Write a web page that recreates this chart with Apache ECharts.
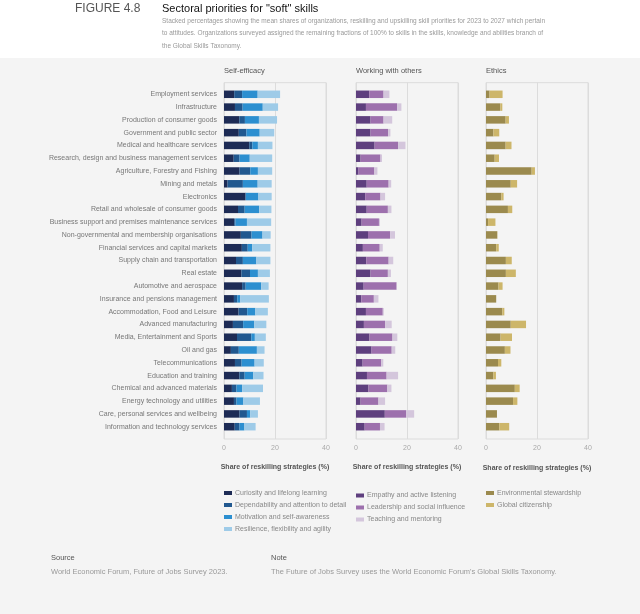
<!DOCTYPE html>
<html>
<head>
<meta charset="utf-8">
<title>Sectoral priorities for "soft" skills</title>
<script src="https://cdn.jsdelivr.net/npm/echarts@6/dist/echarts.min.js"></script>
<style>
	html, body { margin: 0; padding: 0; background: #f4f4f4; }
	#mychart { width: 640px; height: 614px; }
</style>
</head>
<body>
<div id="mychart"></div>
<script>
	const sectors = [
		'Employment services', 'Infrastructure', 'Production of consumer goods', 'Government and public sector',
		'Medical and healthcare services', 'Research, design and business management services',
		'Agriculture, Forestry and Fishing', 'Mining and metals', 'Electronics', 'Retail and wholesale of consumer goods',
		'Business support and premises maintenance services', 'Non-governmental and membership organisations',
		'Financial services and capital markets', 'Supply chain and transportation', 'Real estate',
		'Automotive and aerospace', 'Insurance and pensions management', 'Accommodation, Food and Leisure',
		'Advanced manufacturing', 'Media, Entertainment and Sports', 'Oil and gas', 'Telecommunications',
		'Education and training', 'Chemical and advanced materials', 'Energy technology and utilities',
		'Care, personal services and wellbeing', 'Information and technology services'
	]
	const xTicks = [0, 20, 40]

	// Self-efficacy
	const curiosity = [4.0, 4.3, 6.0, 5.8, 9.9, 3.8, 6.1, 1.4, 8.4, 5.5, 4.0, 6.6, 7.0, 4.7, 6.8, 7.1, 3.9, 5.7, 3.5, 5.1, 2.7, 4.3, 6.0, 3.1, 3.9, 6.1, 4.2]
	const dependability = [3.1, 3.0, 2.2, 3.0, 1.2, 2.3, 4.2, 6.0, 0.2, 2.6, 0.5, 4.2, 2.3, 2.7, 3.4, 1.4, 1.3, 3.4, 4.0, 5.6, 3.1, 2.6, 2.1, 1.8, 1.0, 2.9, 1.9]
	const motivation = [6.1, 7.9, 5.5, 5.2, 2.2, 4.0, 3.0, 5.8, 4.9, 5.7, 4.5, 4.3, 1.8, 5.3, 3.1, 6.1, 1.2, 3.2, 4.4, 1.4, 7.1, 5.1, 3.4, 2.2, 2.7, 1.3, 1.9]
	const resilience = [8.8, 6.0, 7.1, 5.7, 5.7, 8.8, 5.6, 5.5, 5.2, 4.8, 9.5, 3.2, 7.1, 5.5, 4.7, 2.9, 11.2, 4.9, 4.7, 4.3, 3.0, 3.6, 4.0, 8.2, 6.5, 3.0, 4.4]

	// Working with others
	const empathy = [5.2, 3.9, 5.7, 5.7, 7.3, 1.8, 1.0, 4.2, 3.6, 4.2, 2.2, 4.7, 2.7, 4.0, 5.7, 3.0, 2.1, 3.9, 3.1, 5.3, 6.1, 2.6, 4.3, 4.9, 1.8, 11.3, 3.4]
	const leadership = [5.6, 12.2, 5.1, 6.9, 9.2, 7.8, 6.2, 8.6, 6.0, 8.3, 6.8, 8.7, 6.6, 8.8, 6.8, 12.9, 4.9, 6.6, 8.3, 9.0, 7.9, 7.3, 7.7, 7.4, 7.0, 8.4, 6.0]
	const teaching = [2.3, 1.7, 3.4, 0.9, 2.9, 0.6, 1.2, 1.0, 1.8, 1.4, 0.4, 1.9, 1.2, 1.8, 1.2, 0.1, 1.8, 0.4, 2.6, 1.9, 1.4, 0.8, 4.5, 1.6, 2.6, 3.1, 1.8]

	// Ethics
	const environmental = [1.4, 5.6, 7.7, 2.9, 7.7, 3.4, 17.9, 9.7, 6.0, 8.6, 0.8, 4.4, 4.0, 7.8, 7.8, 4.9, 4.0, 6.4, 9.7, 5.7, 7.4, 4.7, 2.9, 11.3, 10.6, 4.3, 5.2]
	const citizenship = [5.1, 0.8, 1.3, 2.3, 2.3, 1.7, 1.3, 2.5, 0.9, 1.7, 2.9, 0.1, 1.0, 2.3, 3.9, 1.6, 0, 0.8, 6.0, 4.5, 2.2, 1.3, 1.0, 1.9, 1.7, 0, 3.9]

	const font = 'Liberation Sans, Arial, sans-serif'
	const panels = [
		{ name: 'Self-efficacy', left: 224, stack: 'self',
			series: [
				{ name: 'Curiosity and lifelong learning', data: curiosity, color: '#1d2b55' },
				{ name: 'Dependability and attention to detail', data: dependability, color: '#21588f' },
				{ name: 'Motivation and self-awareness', data: motivation, color: '#2c8fd0' },
				{ name: 'Resilience, flexibility and agility', data: resilience, color: '#9ecbe8' }
			] },
		{ name: 'Working with others', left: 356, stack: 'others',
			series: [
				{ name: 'Empathy and active listening', data: empathy, color: '#5e3f7e' },
				{ name: 'Leadership and social influence', data: leadership, color: '#9d70ad' },
				{ name: 'Teaching and mentoring', data: teaching, color: '#d4c6dc' }
			] },
		{ name: 'Ethics', left: 486, stack: 'ethics',
			series: [
				{ name: 'Environmental stewardship', data: environmental, color: '#9b8a4e' },
				{ name: 'Global citizenship', data: citizenship, color: '#cdb66a' }
			] }
	]
	const legendTops = [489.5, 492, 489.5]
	const axisNameTops = [463.5, 463.5, 464.5]

	function txt(size, color, weight) {
		return { fontFamily: font, fontSize: size, fontWeight: weight || 'normal', color: color }
	}

	let grids = []
	let xAxes = []
	let yAxes = []
	let series = []
	let legends = []
	let titles = [
		{ text: 'FIGURE 4.8', left: 75, top: 3, padding: 0, textStyle: txt(12, '#555') },
		{ text: 'Sectoral priorities for "soft" skills', left: 162, top: 3, padding: 0, textStyle: txt(11, '#111') },
		{ text: 'Stacked percentages showing the mean shares of organizations, reskilling and upskilling skill priorities for 2023 to 2027 which pertain\n' +
				'to attitudes. Organizations surveyed assigned the remaining fractions of 100% to skills in the skills, knowledge and abilities branch of\n' +
				'the Global Skills Taxonomy.',
			left: 162, top: 14.5, padding: 0, textStyle: Object.assign(txt(6.5, '#999'), { lineHeight: 12.5 }) },
		{ text: 'Source', left: 51, top: 554, padding: 0, textStyle: txt(7.5, '#555') },
		{ text: 'World Economic Forum, Future of Jobs Survey 2023.', left: 51, top: 568, padding: 0, textStyle: txt(7.5, '#999') },
		{ text: 'Note', left: 271, top: 554, padding: 0, textStyle: txt(7.5, '#555') },
		{ text: 'The Future of Jobs Survey uses the World Economic Forum\'s Global Skills Taxonomy.', left: 271, top: 568, padding: 0, textStyle: txt(7.5, '#999') }
	]

	panels.forEach(function (p, i) {
		// frame grid: box, gridline at 20, tick labels
		grids.push({ left: p.left, top: 82.7, width: 102, height: 356.3, show: true, borderColor: '#dcdcdc', borderWidth: 1, backgroundColor: 'transparent' })
		// bar grid
		grids.push({ left: p.left, top: 87.9, width: 102, height: 345.2 })

		xAxes.push({
			type: 'value', gridIndex: i * 2, min: xTicks[0], max: xTicks[xTicks.length - 1], interval: 20,
			axisLine: { show: false }, axisTick: { show: false },
			axisLabel: { fontFamily: font, fontSize: 7, color: '#aaa', margin: 6 },
			splitLine: { show: true, lineStyle: { color: '#dcdcdc', width: 1 } }
		})
		xAxes.push({ type: 'value', gridIndex: i * 2 + 1, min: 0, max: 40, show: false })
		yAxes.push({ type: 'value', gridIndex: i * 2, show: false })
		yAxes.push({
			type: 'category', gridIndex: i * 2 + 1, data: sectors, inverse: true,
			axisLine: { show: false }, axisTick: { show: false }, splitLine: { show: false },
			axisLabel: { show: i === 0, fontFamily: font, fontSize: 7, color: '#777', margin: 7 }
		})

		p.series.forEach(function (s) {
			series.push({
				name: s.name, type: 'bar', stack: p.stack,
				xAxisIndex: i * 2 + 1, yAxisIndex: i * 2 + 1,
				barWidth: 7.5, data: s.data,
				itemStyle: { color: s.color },
				emphasis: { disabled: true }
			})
		})

		legends.push({
			left: p.left, top: legendTops[i], orient: 'vertical', padding: 0,
			data: p.series.map(function (s) { return s.name }),
			icon: 'rect', itemWidth: 8, itemHeight: 4, itemGap: 5,
			selectedMode: false,
			textStyle: { fontFamily: font, fontSize: 7, color: '#888', padding: [0, 0, 0, -2] }
		})

		titles.push({ text: p.name, left: p.left, top: 67, padding: 0, textStyle: txt(7.5, '#555', 500) })
		titles.push({ text: 'Share of reskilling strategies (%)', left: p.left - 3.3, top: axisNameTops[i], padding: 0, textStyle: txt(7, '#555', 'bold') })
	})

	const chart = echarts.init(document.getElementById('mychart'))
	var option = {
		backgroundColor: '#f4f4f4',
		animation: false,
		graphic: [
			{ type: 'rect', left: 0, top: 0, z: -10, shape: { width: 640, height: 58 }, style: { fill: '#ffffff' } }
		],
		title: titles,
		legend: legends,
		grid: grids,
		xAxis: xAxes,
		yAxis: yAxes,
		series: series
	}
	chart.setOption(option)
</script>
</body>
</html>
